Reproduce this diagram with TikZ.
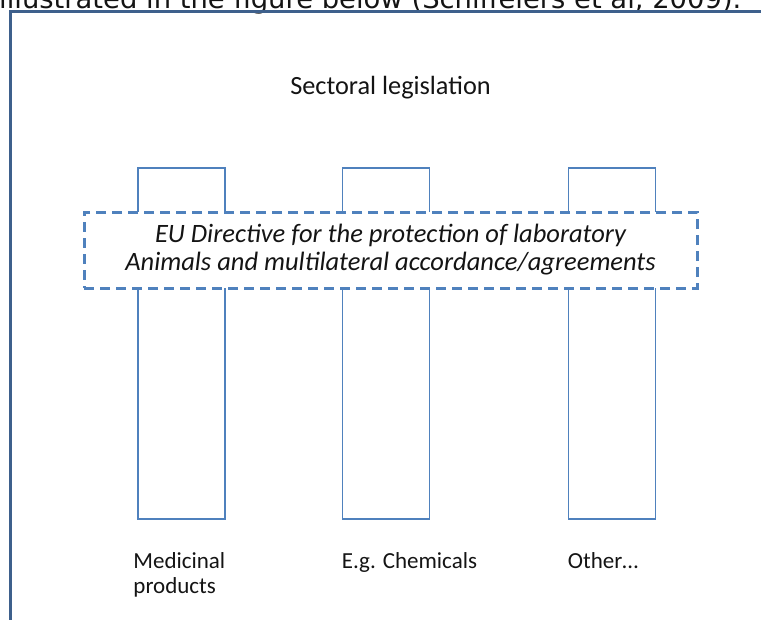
\documentclass[tikz,border=0pt]{standalone}
\usepackage{fontspec}
\setmainfont{Carlito}
\newfontfamily\versefont{DejaVu Sans}
\usepackage{xcolor}
\usepackage{tikz}
\usetikzlibrary{positioning}
\definecolor{framecol}{RGB}{62,96,140}
\definecolor{barcol}{RGB}{79,129,189}
\definecolor{txtcol}{RGB}{20,20,20}

\begin{document}
\begin{tikzpicture}[x=1pt,y=-1pt,
                        bar/.style={draw=barcol, line width=1.5pt, minimum width=87pt, minimum height=351pt, inner sep=0pt},
                        directive/.style={draw=barcol, fill=white, line width=3pt, dash pattern=on 10pt off 6pt,
                            minimum width=613pt, minimum height=76pt, inner sep=0pt, align=center,
                            font=\itshape\fontsize{26.5}{28}\selectfont, text=txtcol},
                        sector/.style={anchor=base west, align=left, inner sep=0pt, font=\fontsize{23}{25}\selectfont, text=txtcol}]
                            \useasboundingbox (0,0) rectangle (761,619);
                            \clip (0,0) rectangle (761,619);
                            % line of the page above the figure, cut off
                            \node[anchor=base west, inner sep=0pt, font=\versefont\fontsize{27.4}{32}\selectfont, text=txtcol] (intro) at (-1,8) {illustrated in the figure below (Schiffelers et al, 2009).};
                            % outer frame
                            \draw[framecol, line width=3pt] (10,640) -- (10,11) -- (780,11);
                            \node[anchor=base, inner sep=0pt, font=\fontsize{26.3}{30}\selectfont, text=txtcol] (title) at (390.5,94) {Sectoral legislation};

                            % pillars: 138-225, 343-429, 569-655
                            \node[bar] (barmed) at (181.5,343.5) {};
                            \node[bar] (barchem) at (386,343.5) {};
                            \node[bar] (barother) at (612,343.5) {};
                            \node[directive] (directive) at (390.5,250) {EU Directive for the protection of laboratory\\Animals and multilateral accordance/agreements};

                            % base = last line, so two lines go 25pt lower
                            \node[sector] (lblmed) at ([shift={(-4pt,-74pt)}]barmed.south west) {Medicinal\\products};
                            \node[sector] (lblchem) at ([shift={(0pt,-49pt)}]barchem.south west) {E.g. Chemicals};
                            \node[sector] (lblother) at ([shift={(0pt,-49pt)}]barother.south west) {Other\ldots};
                        \end{tikzpicture}
\end{document}
